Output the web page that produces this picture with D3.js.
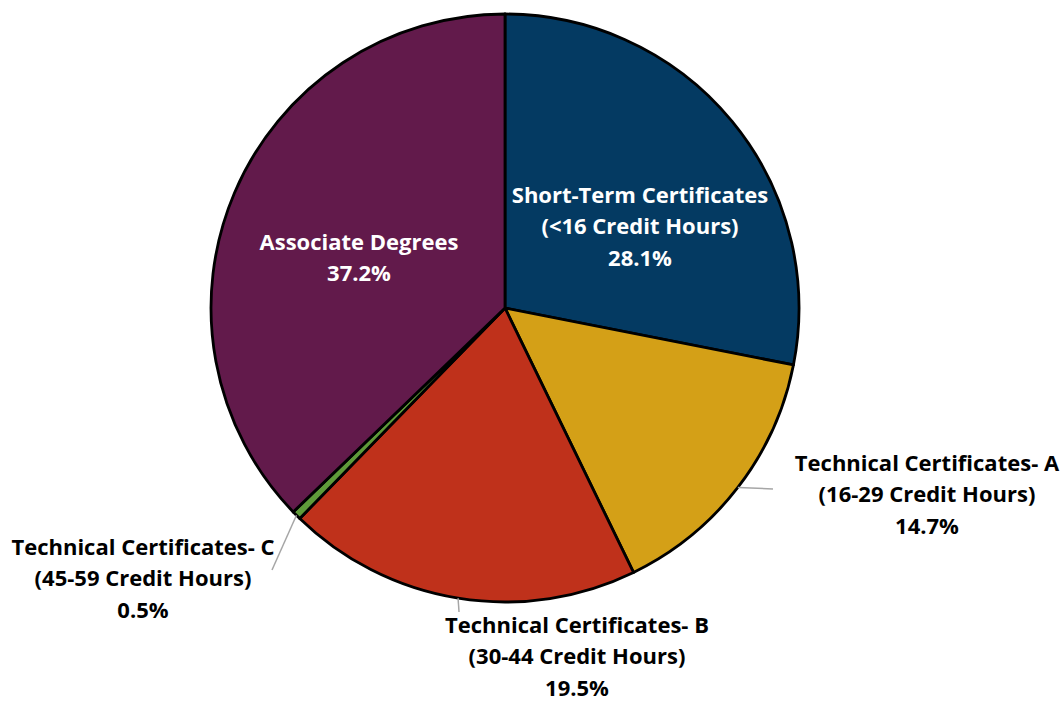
<!DOCTYPE html>
<html>
<head>
<meta charset="utf-8">
<script src="https://cdn.jsdelivr.net/npm/d3@7"></script>
<style>
  body { margin: 0; background: #fff; }
  svg text { font-family: "Open Sans", Lato, sans-serif; font-weight: bold; font-size: 22px; }
</style>
</head>
<body>
<svg id="chart" width="1063" height="701"></svg>
<script>
var categories = ["Short-Term Certificates", "Technical Certificates- A", "Technical Certificates- B",
                  "Technical Certificates- C", "Associate Degrees"];
var subtitles = ["(<16 Credit Hours)", "(16-29 Credit Hours)", "(30-44 Credit Hours)", "(45-59 Credit Hours)", null];
var values = [28.1, 14.7, 19.5, 0.5, 37.2];
var colors = ["#043a62", "#d4a017", "#bf311b", "#5f9a3a", "#621a4b"];

// label placement: x, y of first line, text colour, leader line end
var labelPos = [
  {x: 640, y: 195, fill: "#fff"},
  {x: 927, y: 463, fill: "#000", leader: [773, 489]},
  {x: 577, y: 625, fill: "#000", leader: [459, 612]},
  {x: 143, y: 547, fill: "#000", leader: [272, 570]},
  {x: 359, y: 242, fill: "#fff"}
];

var width = 1063, height = 701,
    cx = 505, cy = 308, radius = 294;

var svg = d3.select("#chart");
var g = svg.append("g").attr("transform", "translate(" + cx + "," + cy + ")");

var pie = d3.pie().sort(null).value(function(d){ return d; });
var arc = d3.arc().innerRadius(0).outerRadius(radius);
var arcs = pie(values);

g.selectAll("path.slice")
  .data(arcs)
  .enter().append("path")
  .attr("class", "slice")
  .attr("d", arc)
  .attr("fill", function(d, i){ return colors[i]; })
  .attr("stroke", "#000")
  .attr("stroke-width", 2.8)
  .attr("stroke-linejoin", "round");

// leader lines for the outside labels
arcs.forEach(function(d, i){
  var p = labelPos[i];
  if (!p.leader) return;
  var a = (d.startAngle + d.endAngle) / 2;
  var sx = Math.sin(a) * radius, sy = -Math.cos(a) * radius;
  g.append("line")
    .attr("x1", sx).attr("y1", sy)
    .attr("x2", p.leader[0] - cx).attr("y2", p.leader[1] - cy)
    .attr("stroke", "#a6a6a6")
    .attr("stroke-width", 1.5);
});

arcs.forEach(function(d, i){
  var p = labelPos[i];
  var lines = [categories[i]];
  if (subtitles[i]) lines.push(subtitles[i]);
  lines.push(values[i].toFixed(1) + "%");
  var t = svg.append("text")
    .attr("text-anchor", "middle")
    .attr("fill", p.fill);
  lines.forEach(function(s, k){
    t.append("tspan")
      .attr("x", p.x)
      .attr("y", p.y + k * 31.5)
      .attr("dy", "0.35em")
      .text(s);
  });
});
</script>
</body>
</html>
